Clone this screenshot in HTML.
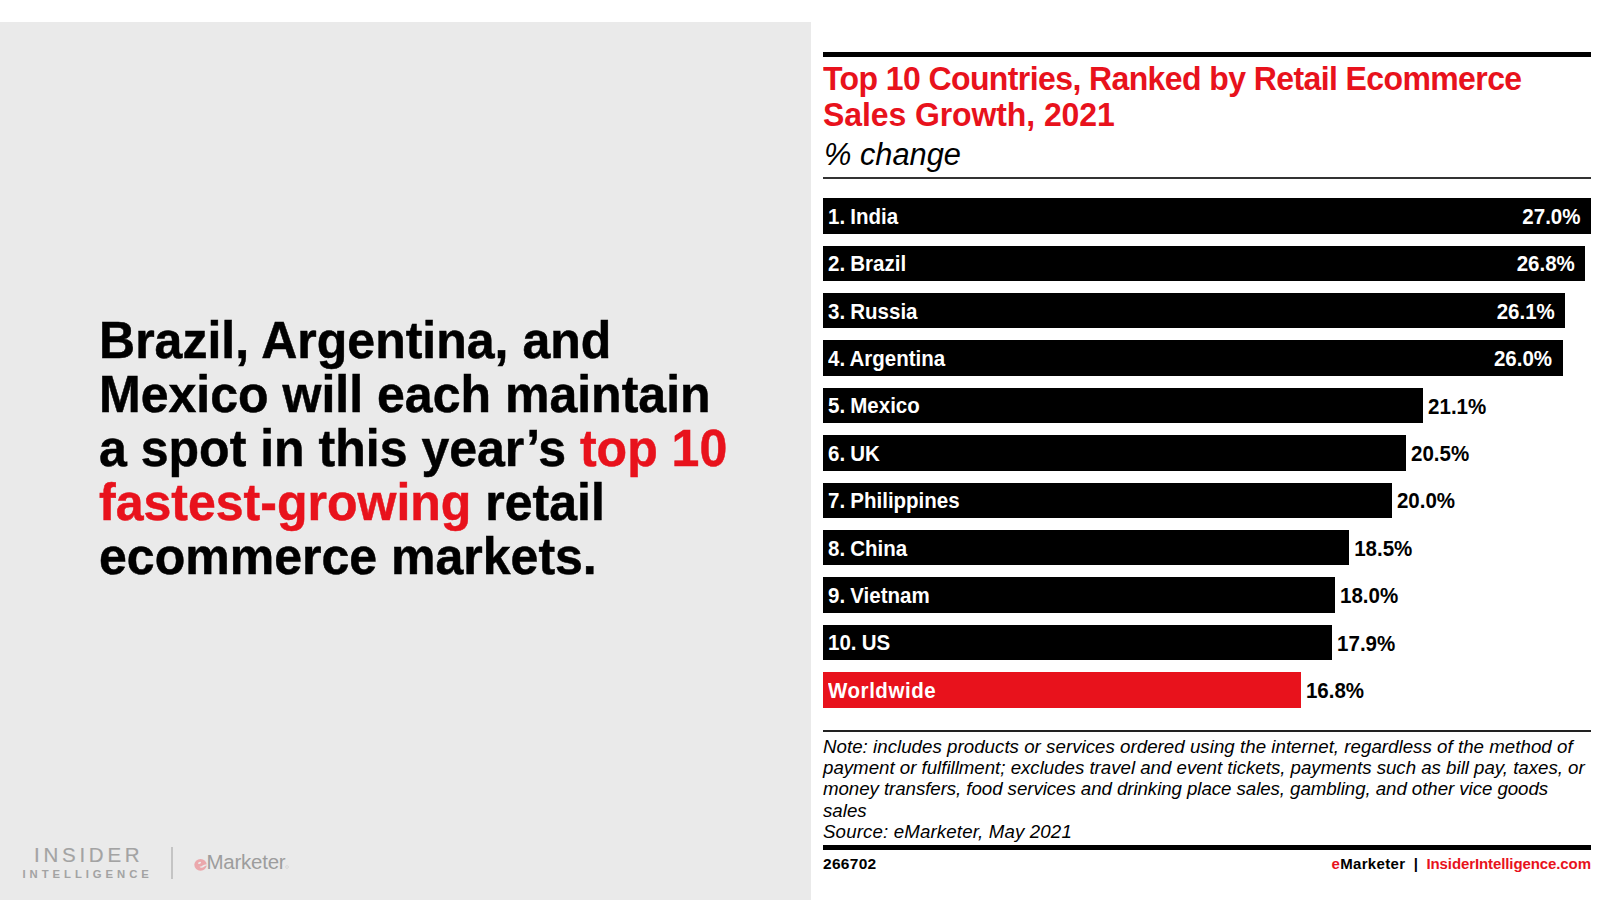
<!DOCTYPE html>
<html>
<head>
<meta charset="utf-8">
<style>
html,body{margin:0;padding:0;}
body{width:1600px;height:900px;position:relative;overflow:hidden;background:#fff;font-family:"Liberation Sans",sans-serif;}
.abs{position:absolute;}
.panel{left:0;top:22px;width:811px;height:878px;background:#eaeaea;}
.headline{left:99px;top:312.9px;width:740px;font-weight:bold;font-size:52px;line-height:54px;color:#000;white-space:nowrap;transform:scaleX(0.962);transform-origin:0 0;-webkit-text-stroke:0.5px currentColor;}
.red{color:#e8121c;}
.rule{left:823px;width:768px;background:#000;}
.title{left:823px;top:61.4px;transform:scaleY(1.03);transform-origin:0 0;font-weight:bold;font-size:32px;line-height:34.76px;color:#e8121c;letter-spacing:-0.6px;white-space:nowrap;}
.sub{left:824px;top:137.5px;font-style:italic;font-size:30.8px;line-height:34px;color:#000;white-space:nowrap;}
.bar{left:823px;height:35.4px;background:#000;}
.bar.ww{background:#e8121c;}
.lab{position:absolute;left:5px;top:0.6px;transform:scaleY(1.08);transform-origin:0 25.2px;word-spacing:-0.5px;line-height:35.5px;font-weight:bold;font-size:20.5px;color:#fff;white-space:nowrap;}
.val{position:absolute;top:0.8px;transform:scaleY(1.08);transform-origin:0 25.2px;line-height:35.5px;font-weight:bold;font-size:20.5px;white-space:nowrap;}
.val.in{right:10.5px;color:#fff;}
.val.out{left:100%;margin-left:5px;color:#000;}
.note{left:823px;top:736px;width:780px;font-style:italic;font-size:18.7px;line-height:21.2px;color:#000;white-space:nowrap;}
.fid{left:823px;top:854px;font-weight:bold;font-size:15.5px;letter-spacing:0.3px;line-height:20px;color:#000;}
.fr{right:9px;top:854px;font-weight:bold;font-size:15px;line-height:20px;color:#000;white-space:nowrap;}
</style>
</head>
<body>
<div class="abs panel"></div>
<div class="abs headline">Brazil, Argentina, and<br>Mexico will each maintain<br>a spot in this year’s <span class="red">top 10</span><br><span class="red">fastest-growing</span> retail<br>ecommerce markets.</div>


<div class="abs" style="left:34px;top:843px;font-size:20.5px;line-height:24px;color:#a3a3a3;letter-spacing:3.75px;-webkit-text-stroke:0.15px #a3a3a3;white-space:nowrap;">INSIDER</div>
<div class="abs" style="left:22.5px;top:867.2px;font-size:11.3px;font-weight:bold;line-height:14px;color:#a3a3a3;letter-spacing:3.95px;white-space:nowrap;">INTELLIGENCE</div>
<div class="abs" style="left:171px;top:847px;width:2px;height:31.5px;background:#c4c4c4;"></div>
<svg class="abs" style="left:193px;top:858px;" width="15" height="14" viewBox="0 0 15 14"><ellipse cx="7.55" cy="6.8" rx="6.25" ry="5.9" fill="#eba8ac"/><ellipse cx="6.6" cy="4.9" rx="1.6" ry="1.0" transform="rotate(-25 6.6 4.95)" fill="#eaeaea"/><path d="M6.4 8.8 C7.8 9.0 9.2 8.0 10.6 7.1 C11.8 6.4 13 6.2 14.3 6.2 L14.3 7.6 C13 7.6 12.2 7.9 11.2 8.7 C9.6 9.9 7.6 10.3 6.4 8.8 Z" fill="#eaeaea"/></svg>
<div class="abs" style="left:206.5px;top:850px;font-size:20.5px;line-height:24px;color:#9d9d9d;letter-spacing:-0.25px;white-space:nowrap;">Marketer</div>

<svg class="abs" style="left:285px;top:865px;" width="4" height="4" viewBox="0 0 4 4"><circle cx="2" cy="2" r="1.4" fill="none" stroke="#cfcfcf" stroke-width="0.6"/></svg>
<div class="abs rule" style="top:52px;height:5px;"></div>
<div class="abs title">Top 10 Countries, Ranked by Retail Ecommerce<br><span style="letter-spacing:-0.1px">Sales Growth, 2021</span></div>
<div class="abs sub">% change</div>
<div class="abs rule" style="top:177px;height:2px;background:#333;"></div>

<div class="abs bar" style="top:198.2px;width:768px;"><span class="lab">1. India</span><span class="val in">27.0%</span></div>
<div class="abs bar" style="top:245.6px;width:762.3px;"><span class="lab">2. Brazil</span><span class="val in">26.8%</span></div>
<div class="abs bar" style="top:293.0px;width:742.3px;"><span class="lab">3. Russia</span><span class="val in">26.1%</span></div>
<div class="abs bar" style="top:340.4px;width:739.6px;"><span class="lab">4. Argentina</span><span class="val in">26.0%</span></div>
<div class="abs bar" style="top:387.8px;width:600.1px;"><span class="lab">5. Mexico</span><span class="val out">21.1%</span></div>
<div class="abs bar" style="top:435.2px;width:583px;"><span class="lab">6. UK</span><span class="val out">20.5%</span></div>
<div class="abs bar" style="top:482.6px;width:568.9px;"><span class="lab">7. Philippines</span><span class="val out">20.0%</span></div>
<div class="abs bar" style="top:530.0px;width:526.2px;"><span class="lab">8. China</span><span class="val out">18.5%</span></div>
<div class="abs bar" style="top:577.4px;width:512px;"><span class="lab">9. Vietnam</span><span class="val out">18.0%</span></div>
<div class="abs bar" style="top:624.8px;width:509.1px;"><span class="lab">10. US</span><span class="val out">17.9%</span></div>
<div class="abs bar ww" style="top:672.2px;width:477.9px;"><span class="lab" style="letter-spacing:0.55px">Worldwide</span><span class="val out">16.8%</span></div>

<div class="abs rule" style="top:730px;height:1.5px;background:#222;"></div>
<div class="abs note"><span style="letter-spacing:0.03px">Note: includes products or services ordered using the internet, regardless of the method of</span><br><span style="letter-spacing:-0.015px">payment or fulfillment; excludes travel and event tickets, payments such as bill pay, taxes, or</span><br><span style="letter-spacing:-0.06px">money transfers, food services and drinking place sales, gambling, and other vice goods</span><br>sales<br><span style="letter-spacing:0.14px">Source: eMarketer, May 2021</span></div>
<div class="abs rule" style="top:845.2px;height:5px;"></div>
<div class="abs fid">266702</div>
<div class="abs fr"><span style="letter-spacing:0.35px"><span class="red">e</span>Marketer</span><span style="display:inline-block;width:21px;text-align:center;">|</span><span class="red" style="letter-spacing:-0.1px">InsiderIntelligence.co<span style="letter-spacing:0">m</span></span></div>

</body>
</html>
